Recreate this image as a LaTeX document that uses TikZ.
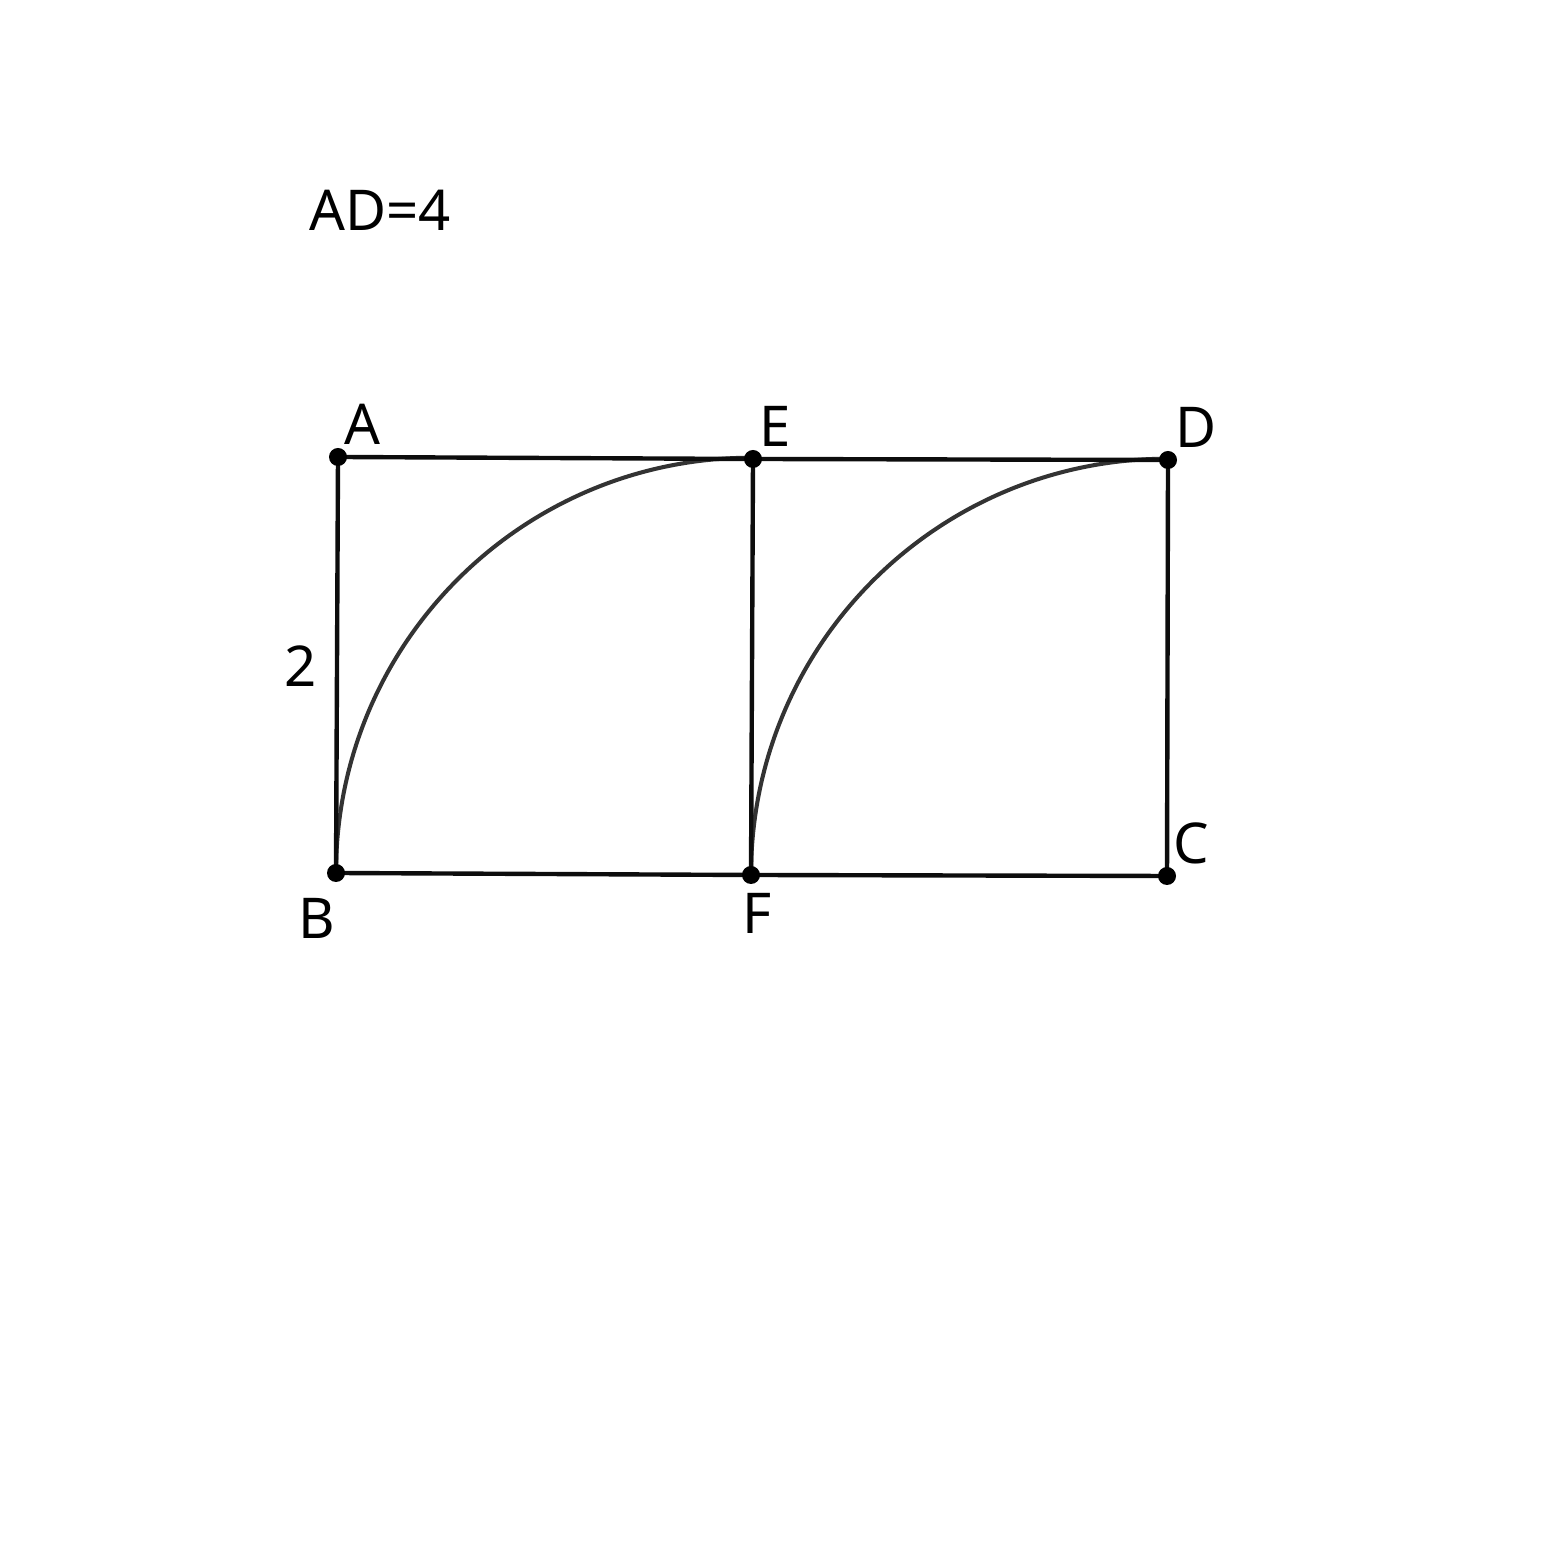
\documentclass[tikz,border=0pt]{standalone}
\usepackage{fontspec}
\setmainfont{Noto Sans}
\begin{document}
\begin{tikzpicture}[x=0.01cm,y=0.01cm,
  seg/.style={line width=1.25pt,black!95},
  arcline/.style={line width=1.15pt,black!80},
  dot/.style={circle,fill=black,inner sep=0pt,minimum size=0.18cm},
  lbl/.style={font=\fontsize{16}{19}\selectfont,inner sep=0pt}]
\useasboundingbox (0,0) rectangle (1546,1546);
\coordinate (A) at (338,1089);
\coordinate (E) at (753,1087);
\coordinate (D) at (1168,1086);
\coordinate (B) at (336,673);
\coordinate (F) at (751,671);
\coordinate (C) at (1167,670);
\draw[arcline] (B) arc[start angle=180,end angle=90,radius=4.15cm];
\draw[arcline] (F) arc[start angle=180,end angle=90,radius=4.16cm];
\draw[seg] (A) -- (E) -- (D) -- (C) -- (F) -- (B) -- cycle;
\draw[seg] (E) -- (F);
\foreach \p in {A,E,D,B,F,C} \node[dot] (d\p) at (\p) {};
\node[lbl] (lA) at (362,1122) {A};
\node[lbl] (lE) at (775,1120) {E};
\node[lbl] (lD) at (1196,1119) {D};
\node[lbl] (lB) at (317,628) {B};
\node[lbl] (lF) at (757,633) {F};
\node[lbl] (lC) at (1191,703) {C};
\node[lbl] (l2) at (301,880) {2};
\node[lbl] (title) at (380,1336) {AD=4};
\end{tikzpicture}
\end{document}
